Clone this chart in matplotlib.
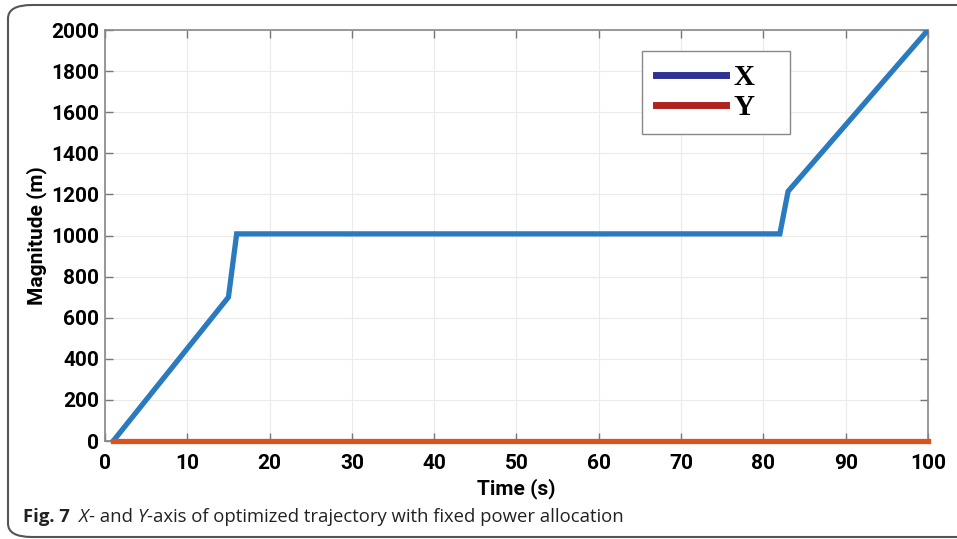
import matplotlib.pyplot as plt
from matplotlib.lines import Line2D
from matplotlib.patches import FancyBboxPatch

# trajectory
t_x = [1, 15, 16, 82, 83, 100]
x_pos = [0, 700, 1008, 1008, 1215, 2000]
t_y = [1, 100]
y_pos = [0, 0]

xticks = list(range(0, 101, 10))
yticks = list(range(0, 2001, 200))
legend_labels = ['X', 'Y']

tick_font = ['Liberation Sans Narrow', 'Roboto', 'DejaVu Sans']

fig = plt.figure(figsize=(9.57, 5.39), dpi=100)
ax = fig.add_axes([0.1097, 0.1818, 0.8600, 0.7625])

ax.plot(t_x, x_pos, color='#2a7abf', lw=3.8, solid_joinstyle='miter', zorder=3)
ax.plot(t_y, y_pos, color='#d9531a', lw=3.8, zorder=3, clip_on=False)

ax.set_xlim(0, 100)
ax.set_ylim(0, 2000)
ax.set_xticks(xticks)
ax.set_yticks(yticks)
ax.grid(True, color='#ebebeb', lw=0.8)
ax.set_axisbelow(True)
ax.tick_params(direction='in', length=6, width=1, color='#777777',
               top=True, right=True, labelsize=15, pad=4)
ax.tick_params(axis='x', pad=9)
for lbl in ax.get_xticklabels() + ax.get_yticklabels():
    lbl.set_family(tick_font)
    lbl.set_weight('bold')
for s in ax.spines.values():
    s.set_color('#888888')
    s.set_linewidth(1.2)

ax.set_xlabel('Time (s)', family=tick_font, weight='bold', fontsize=15, labelpad=4)
ax.set_ylabel('Magnitude (m)', family=tick_font, weight='bold', fontsize=15, labelpad=3)

handles = [Line2D([], [], color='#2e3192', lw=5),
           Line2D([], [], color='#b0221f', lw=5)]
leg = ax.legend(handles, [l + '   ' for l in legend_labels], loc='upper left',
                bbox_to_anchor=(0.653, 0.949), borderaxespad=0,
                prop={'family': ['Liberation Serif', 'DejaVu Serif'], 'weight': 'bold', 'size': 21},
                handlelength=2.4, handletextpad=0.3, labelspacing=0.1,
                borderpad=0.45, fancybox=False, framealpha=1, edgecolor='#888888')
leg.get_frame().set_linewidth(1.0)

# outer frame of the figure panel (right side runs off the image)
frame = FancyBboxPatch((8 / 957, 2 / 539), 1.2, 1 - 7 / 539,
                       boxstyle='round,pad=0,rounding_size=0.025',
                       transform=fig.transFigure, fill=False,
                       ec='#555555', lw=1.5, zorder=0)
fig.patches.append(frame)

# caption, built from pieces with mixed styles
cap_font = ['Open Sans', 'DejaVu Sans']
pieces = [('Fig. 7', 'bold', 'normal'), ('  ', 'normal', 'normal'),
          ('X', 'normal', 'italic'), ('- and ', 'normal', 'normal'),
          ('Y', 'normal', 'italic'),
          ('-axis of optimized trajectory with fixed power allocation', 'normal', 'normal')]
renderer = fig.canvas.get_renderer()
xpos = 23
for txt, w, st in pieces:
    t = fig.text(xpos / 957, 1 - 517 / 539, txt, family=cap_font, weight=w, style=st,
                 fontsize=13.3, color='#222222', va='center', ha='left')
    bb = t.get_window_extent(renderer)
    xpos += bb.width

fig.savefig('out.png', dpi=100)
